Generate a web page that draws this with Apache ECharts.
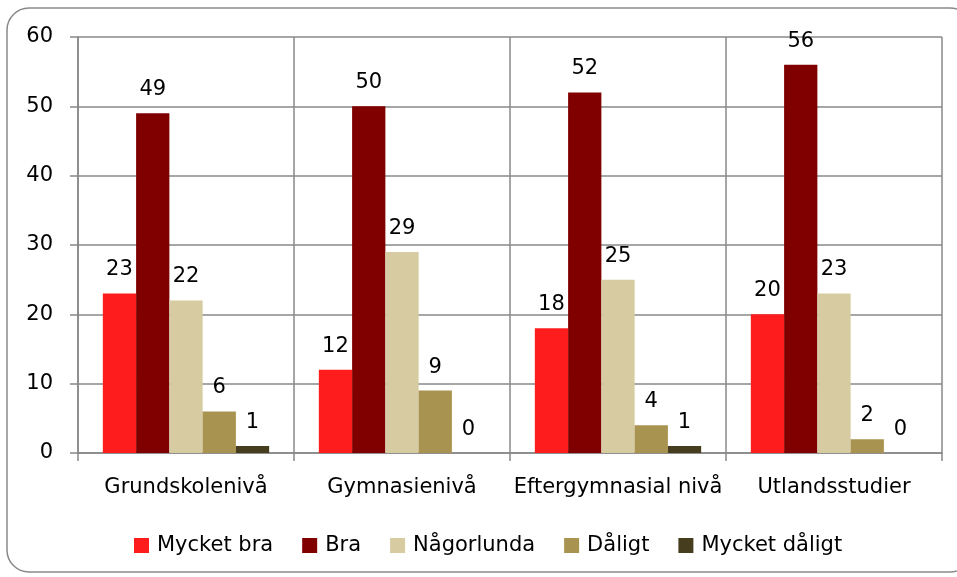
<!DOCTYPE html>
<html>
<head>
<meta charset="utf-8">
<script src="https://cdn.jsdelivr.net/npm/echarts@6/dist/echarts.min.js"></script>
<style>
html,body{margin:0;padding:0;background:#fff;}
#chart{width:957px;height:577px;}
</style>
</head>
<body>
<div id="chart"></div>
<script>
// data
const categories = ['Grundskolenivå', 'Gymnasienivå', 'Eftergymnasial nivå', 'Utlandsstudier']
const seriesNames = ['Mycket bra', 'Bra', 'Någorlunda', 'Dåligt', 'Mycket dåligt']
const mycketBra = [23, 12, 18, 20]
const bra = [49, 50, 52, 56]
const nagorlunda = [22, 29, 25, 23]
const daligt = [6, 9, 4, 2]
const mycketDaligt = [1, 0, 1, 0]
const yTicks = [0, 10, 20, 30, 40, 50, 60]

const colors = ['#FF1C1C', '#800000', '#D7CBA1', '#A89350', '#463D1F']
const values = [mycketBra, bra, nagorlunda, daligt, mycketDaligt]
const font = '"DejaVu Sans", sans-serif'

const series = []
for (let i = 0; i < seriesNames.length; i++) {
	series.push({
		type: 'bar',
		name: seriesNames[i],
		barGap: '0%',
		barCategoryGap: '23%',
		itemStyle: { color: colors[i] },
		label: {
			show: true,
			position: 'top',
			distance: 13,
			color: '#000',
			fontSize: 21,
			fontFamily: font
		},
		data: values[i]
	})
}

const chart = echarts.init(document.getElementById('chart'))
chart.setOption({
	animation: false,
	color: colors,
	graphic: [{
		type: 'rect',
		shape: { x: 7, y: 8, width: 965, height: 564, r: 22 },
		style: { fill: 'none', stroke: '#8a8a8a', lineWidth: 1.5 },
		z: -1
	}],
	grid: { left: 78, right: 15, top: 37, bottom: 124, containLabel: false },
	legend: {
		bottom: 16,
		left: 129,
		itemWidth: 15,
		itemHeight: 15,
		itemGap: 29,
		icon: 'rect',
		textStyle: { fontSize: 21, fontFamily: font, color: '#000', padding: [0, 0, 0, 3] },
		data: seriesNames
	},
	xAxis: {
		type: 'category',
		data: categories,
		axisLine: { lineStyle: { color: '#888', width: 1.5 } },
		axisTick: { show: true, interval: 0, length: 8, lineStyle: { color: '#888', width: 1.5 } },
		splitLine: { show: true, interval: 0, lineStyle: { color: '#888', width: 1.5 } },
		axisLabel: { interval: 0, fontSize: 21, fontFamily: font, color: '#000', margin: 24 }
	},
	yAxis: {
		type: 'value',
		min: yTicks[0],
		max: yTicks[yTicks.length - 1],
		interval: 10,
		axisLine: { show: true, lineStyle: { color: '#888', width: 1.5 } },
		axisTick: { show: true, length: 8, lineStyle: { color: '#888', width: 1.5 } },
		splitLine: { show: true, lineStyle: { color: '#888', width: 1.5 } },
		axisLabel: { fontSize: 21, fontFamily: font, color: '#000', margin: 25 }
	},
	series: series
})
</script>
</body>
</html>
